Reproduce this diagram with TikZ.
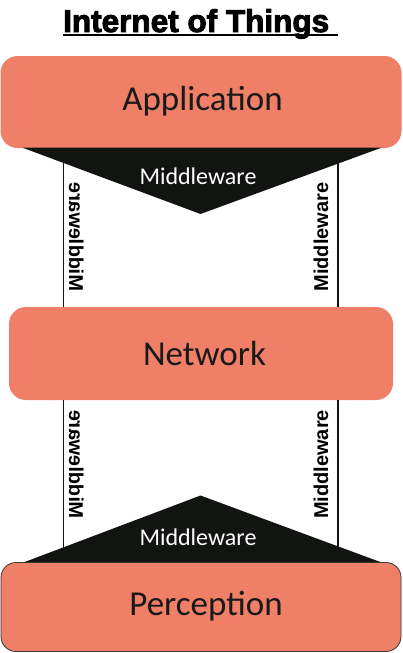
\documentclass[tikz,border=0pt]{standalone}
\usepackage{fontspec}
\setmainfont{Carlito}
\newfontfamily\titlefont[FakeBold=3]{Liberation Sans Bold}
\newfontfamily\sidefont{Liberation Sans Bold}
\definecolor{salmon}{RGB}{239,127,103}
\definecolor{ink}{RGB}{18,20,18}
\definecolor{txt}{RGB}{25,25,25}
\begin{document}
\begin{tikzpicture}[x=1pt,y=-1pt,
  layer/.style={fill=salmon, rounded corners=17pt, inner sep=0pt, anchor=center},
  lbl/.style={font=\fontsize{35}{40}\selectfont, text=txt, inner sep=0pt, anchor=base},
  tri/.style={fill=ink},
  trilbl/.style={font=\fontsize{24}{28}\selectfont, text=white, inner sep=0pt, anchor=base},
  side/.style={font=\sidefont\fontsize{20}{24}\selectfont, text=black, inner sep=0pt, anchor=base},
  wire/.style={draw=ink, line width=1.5pt}]
\useasboundingbox (0,0) rectangle (402,653);

% title
\node[font=\titlefont\fontsize{31.5}{36}\selectfont, inner sep=0pt, anchor=base west] (title) at (63,32) {Internet of Things};
\draw[line width=2pt] (63,34.5) -- (338,34.5);

% layer boxes
\node[layer, minimum width=401pt, minimum height=92pt] (app) at (201,102) {};
\node[layer, minimum width=384pt, minimum height=93pt] (net) at (201,353.5) {};
\coordinate (percTop) at (201,562.5);

% x positions of the side connectors
\coordinate (xl) at (63.5,0);
\coordinate (xr) at (338,0);

% side connectors
\draw[wire] (app.south -| xl) -- (net.north -| xl);
\draw[wire] (app.south -| xr) -- (net.north -| xr);
\draw[wire] (net.south -| xl) -- (percTop -| xl);
\draw[wire] (net.south -| xr) -- (percTop -| xr);

% middleware triangles
\path[tri] (22,147.5) -- (382,147.5) -- (200.5,214) -- cycle;
\path[tri] (22,563) -- (383,563) -- (200.5,495.5) -- cycle;

\node[layer, draw=ink!85, line width=0.8pt, rounded corners=15pt, minimum width=400pt, minimum height=89pt] (perc) at (201,607) {};

% labels
\node[lbl] (appT) at (202.5,110) {Application};
\node[lbl] (netT) at (204.5,365) {Network};
\node[lbl] (percT) at (206,615) {Perception};

\node[trilbl] (mwTop) at (198,184) {Middleware};
\node[trilbl] (mwBot) at (198,545) {Middleware};

\node[side, rotate=90] (mwR1) at (328,237) {Middleware};
\node[side, rotate=90] (mwR2) at (328,464.5) {Middleware};
\node[side, rotate=90, yscale=-1] (mwL1) at (69,237) {Middleware};
\node[side, rotate=90, yscale=-1] (mwL2) at (69,464.5) {Middleware};
\end{tikzpicture}
\end{document}
